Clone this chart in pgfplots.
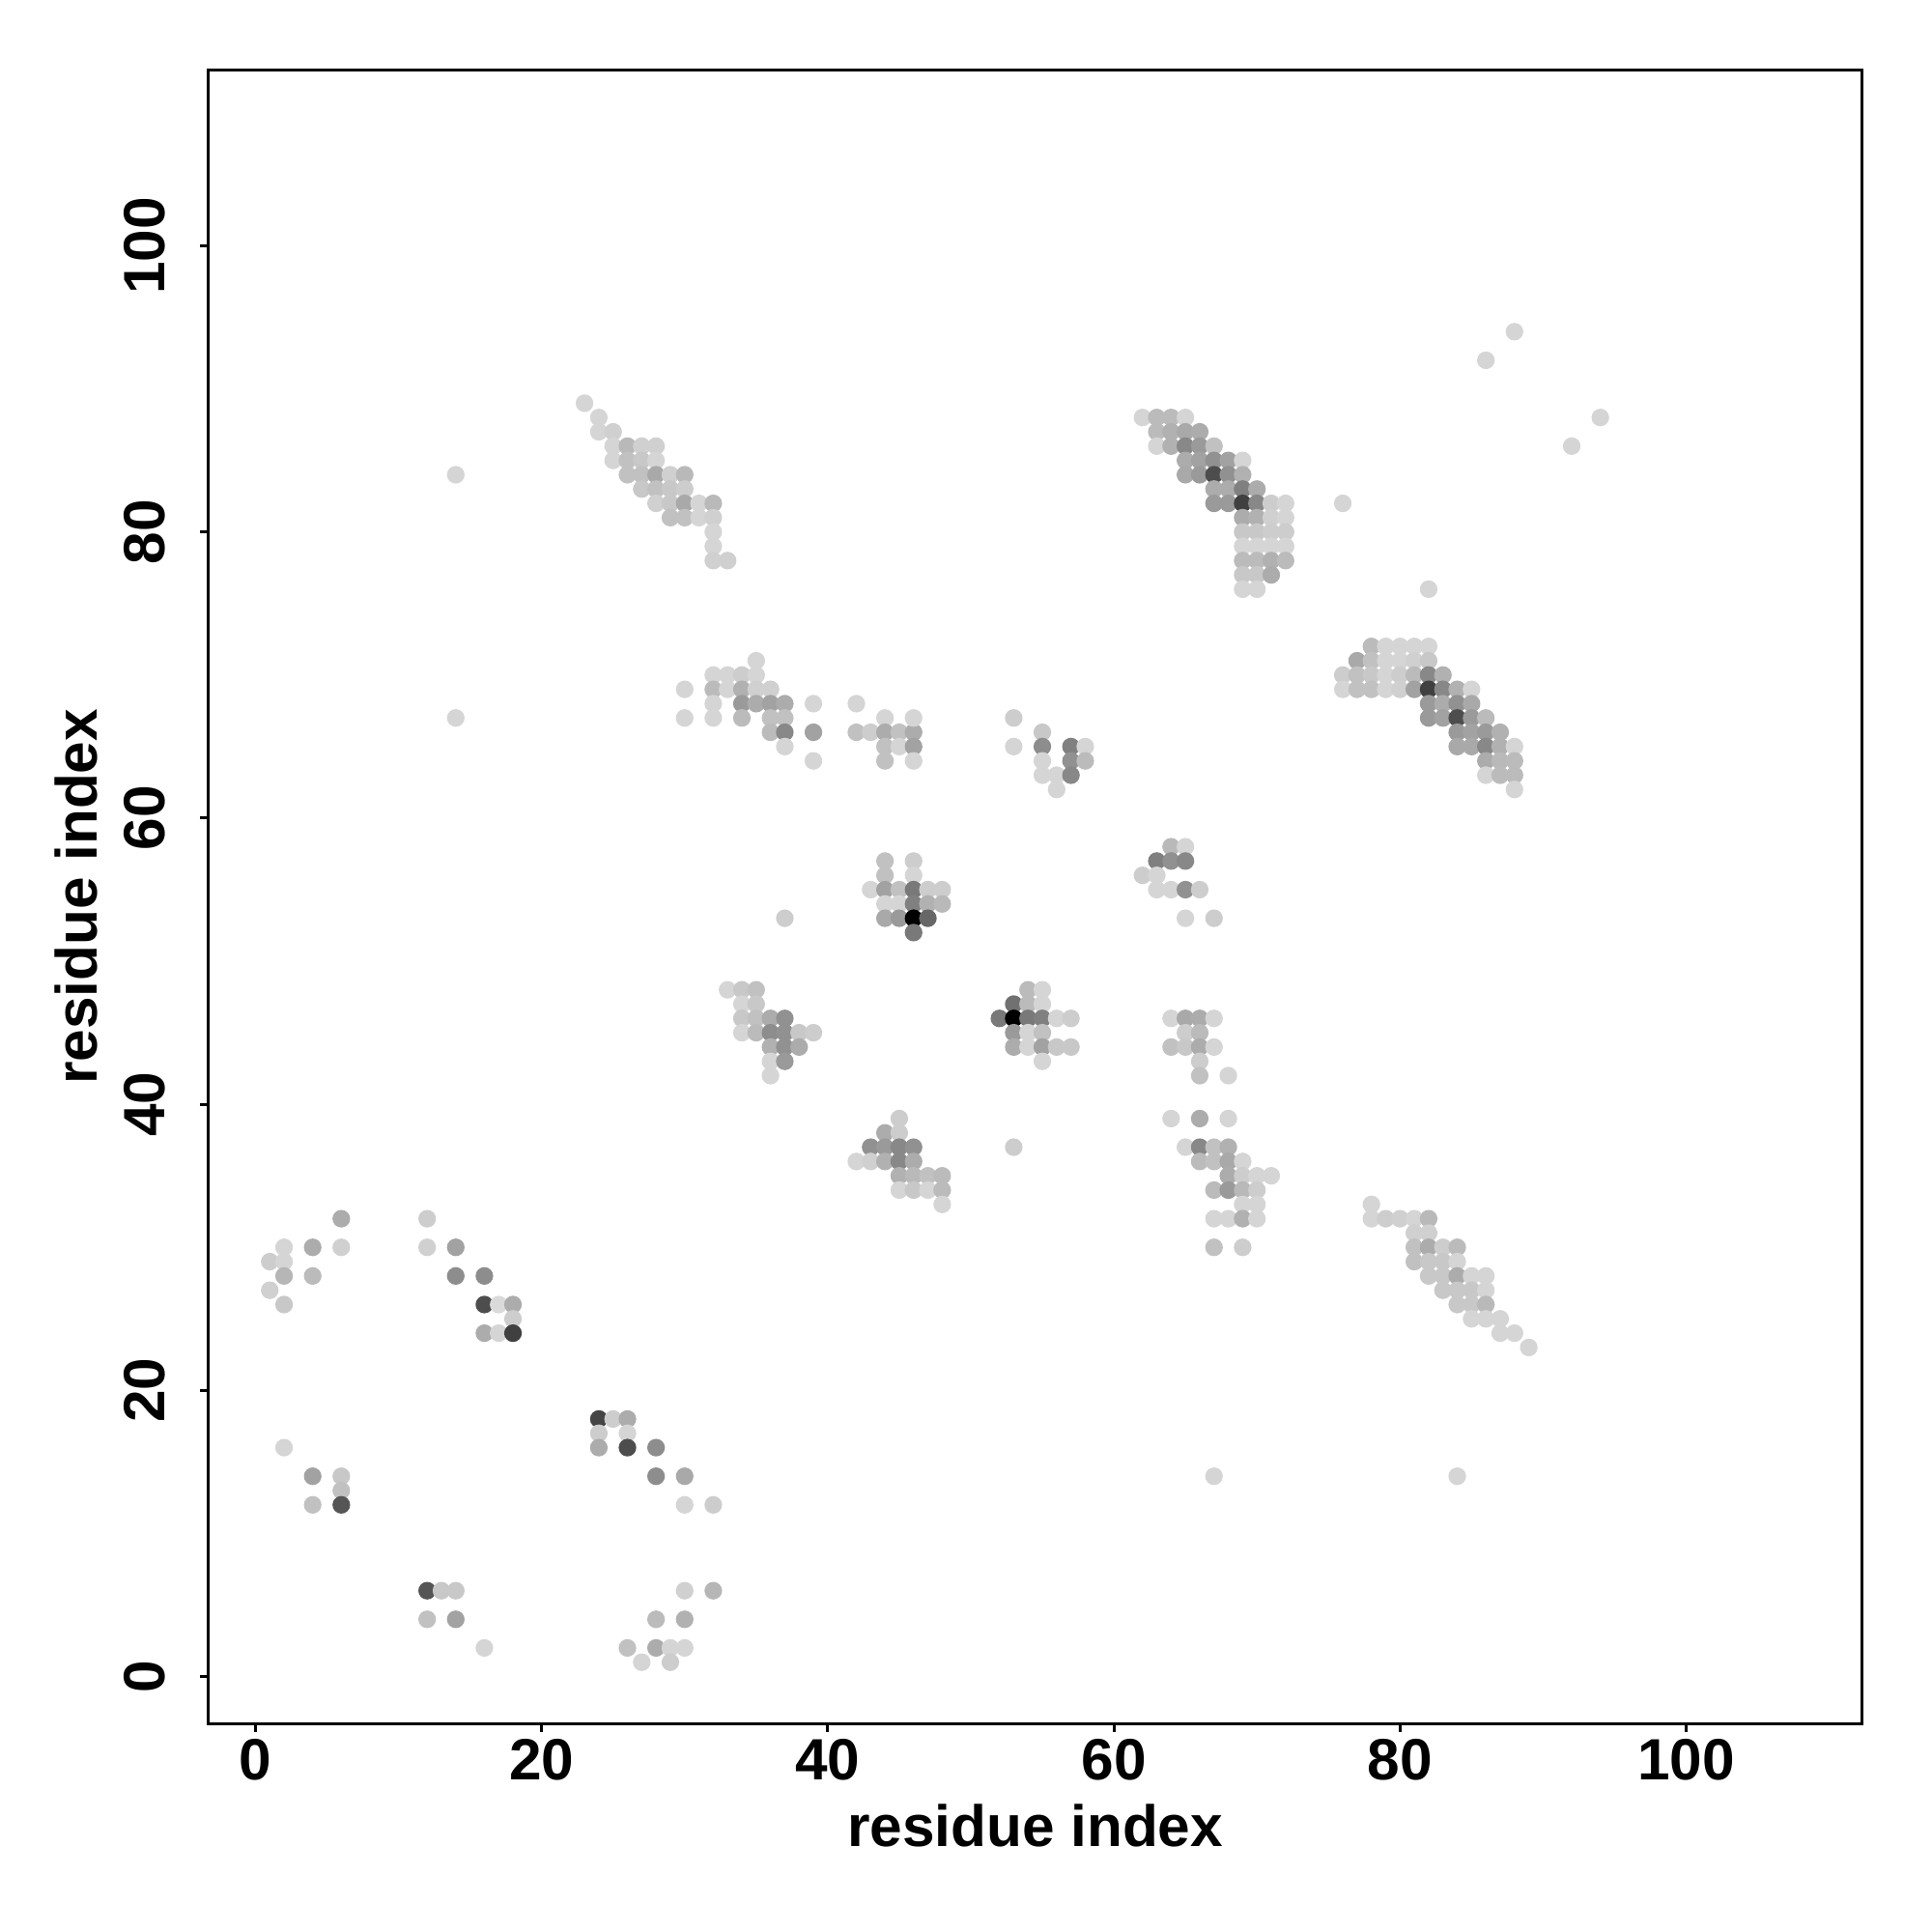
\documentclass[border=0pt]{standalone}
\usepackage{fontspec}
\setmainfont{Liberation Sans}
\usepackage{pgfplots}
\usepackage{pgfplotstable}
\pgfplotsset{compat=1.18}
\pgfplotstableread{
x y g
6 32 0.67
12 32 0.80
2 30 0.83
4 30 0.67
6 30 0.81
12 30 0.81
14 30 0.63
1 29 0.80
2 29 0.83
2 28 0.71
4 28 0.73
14 28 0.55
16 28 0.55
1 27 0.81
2 26 0.78
16 26 0.30
17 26 0.85
18 26 0.67
18 25 0.80
16 24 0.67
17 24 0.83
18 24 0.25
24 18 0.27
25 18 0.80
26 18 0.67
24 17 0.80
26 17 0.83
24 16 0.67
26 16 0.30
28 16 0.55
28 14 0.55
30 14 0.66
30 12 0.83
32 12 0.80
2 16 0.83
4 14 0.63
6 14 0.78
6 13 0.75
4 12 0.75
6 12 0.33
12 6 0.33
13 6 0.78
14 6 0.78
12 4 0.75
14 4 0.63
16 2 0.83
30 6 0.81
32 6 0.71
28 4 0.73
30 4 0.69
26 2 0.75
28 2 0.67
29 2 0.83
30 2 0.83
27 1 0.83
29 1 0.80
23 89 0.83
24 88 0.83
24 87 0.83
25 87 0.81
25 86 0.83
25 85 0.83
26 86 0.72
27 86 0.81
28 86 0.81
26 85 0.75
27 85 0.78
28 85 0.83
26 84 0.75
27 84 0.75
28 84 0.66
29 84 0.81
30 84 0.72
27 83 0.78
28 83 0.75
29 83 0.78
30 83 0.80
28 82 0.81
29 82 0.78
30 82 0.66
31 82 0.83
32 82 0.72
29 81 0.75
30 81 0.75
31 81 0.83
32 81 0.81
32 80 0.83
32 79 0.83
32 78 0.81
33 78 0.81
30 69 0.83
30 67 0.83
35 71 0.83
32 70 0.83
33 70 0.83
34 70 0.80
35 70 0.83
32 69 0.73
33 69 0.83
34 69 0.69
35 69 0.81
36 69 0.81
32 68 0.83
34 68 0.60
35 68 0.67
36 68 0.63
37 68 0.67
32 67 0.83
34 67 0.73
36 67 0.75
37 67 0.75
36 66 0.73
37 66 0.53
37 65 0.83
39 68 0.83
39 66 0.63
39 64 0.83
42 68 0.83
42 66 0.75
43 66 0.80
44 67 0.83
44 66 0.67
45 66 0.75
46 66 0.67
46 67 0.83
44 65 0.75
45 65 0.83
46 65 0.63
44 64 0.75
46 64 0.83
53 67 0.80
53 65 0.83
55 66 0.78
55 65 0.55
55 64 0.83
55 63 0.83
56 63 0.83
56 62 0.83
57 65 0.50
57 64 0.565
57 63 0.53
58 65 0.83
58 64 0.73
44 57 0.75
46 57 0.80
44 56 0.75
46 56 0.83
43 55 0.83
44 55 0.63
45 55 0.75
46 55 0.47
47 55 0.80
48 55 0.80
44 54 0.83
45 54 0.83
46 54 0.50
47 54 0.69
48 54 0.72
44 53 0.66
45 53 0.60
46 53 0.00
47 53 0.40
46 52 0.47
64 58 0.72
65 58 0.83
63 57 0.50
64 57 0.565
65 57 0.53
62 56 0.80
63 56 0.83
63 55 0.83
64 55 0.83
65 55 0.565
66 55 0.80
65 53 0.83
67 53 0.80
33 48 0.83
34 48 0.78
35 48 0.75
34 47 0.83
35 47 0.78
34 46 0.78
35 46 0.75
36 46 0.67
37 46 0.565
34 45 0.83
35 45 0.73
36 45 0.55
37 45 0.565
38 45 0.78
39 45 0.80
36 44 0.69
37 44 0.565
38 44 0.67
36 43 0.83
37 43 0.60
36 42 0.83
54 48 0.73
55 48 0.83
53 47 0.44
54 47 0.73
55 47 0.83
52 46 0.47
53 46 0.00
54 46 0.47
55 46 0.50
56 46 0.83
57 46 0.80
53 45 0.60
54 45 0.83
55 45 0.75
53 44 0.67
54 44 0.83
55 44 0.63
56 44 0.78
57 44 0.78
55 43 0.83
64 46 0.83
65 46 0.66
66 46 0.67
67 46 0.83
65 45 0.80
66 45 0.73
64 44 0.75
65 44 0.78
66 44 0.67
67 44 0.83
66 43 0.80
66 42 0.75
68 42 0.83
64 39 0.83
66 39 0.67
68 39 0.83
65 37 0.83
66 37 0.53
67 37 0.75
68 37 0.69
66 36 0.73
67 36 0.75
68 36 0.66
69 36 0.83
68 35 0.67
69 35 0.80
70 35 0.83
71 35 0.83
67 34 0.73
68 34 0.60
69 34 0.72
70 34 0.80
69 33 0.83
70 33 0.83
67 32 0.83
68 32 0.83
69 32 0.69
70 32 0.83
67 30 0.75
69 30 0.80
45 39 0.80
44 38 0.67
45 38 0.80
43 37 0.565
44 37 0.60
45 37 0.53
46 37 0.565
42 36 0.83
43 36 0.81
44 36 0.69
45 36 0.53
46 36 0.67
45 35 0.69
46 35 0.72
47 35 0.75
48 35 0.73
45 34 0.83
46 34 0.78
47 34 0.83
48 34 0.73
48 33 0.83
78 33 0.83
78 32 0.83
79 32 0.80
80 32 0.81
81 32 0.83
82 32 0.72
81 31 0.81
82 31 0.81
81 30 0.75
82 30 0.67
83 30 0.80
84 30 0.73
81 29 0.75
82 29 0.78
83 29 0.78
84 29 0.83
82 28 0.78
83 28 0.78
84 28 0.67
85 28 0.83
86 28 0.83
83 27 0.78
84 27 0.78
85 27 0.78
86 27 0.83
84 26 0.78
85 26 0.78
86 26 0.72
85 25 0.83
86 25 0.83
87 25 0.83
87 24 0.83
88 24 0.83
89 23 0.83
82 76 0.83
78 72 0.73
79 72 0.83
80 72 0.83
81 72 0.83
82 72 0.83
77 71 0.66
78 71 0.75
79 71 0.83
80 71 0.83
81 71 0.81
82 71 0.78
76 70 0.80
77 70 0.75
78 70 0.78
79 70 0.83
80 70 0.80
81 70 0.73
82 70 0.53
83 70 0.69
76 69 0.83
77 69 0.75
78 69 0.75
79 69 0.83
80 69 0.81
81 69 0.63
82 69 0.25
83 69 0.53
84 69 0.69
85 69 0.83
82 68 0.60
83 68 0.67
84 68 0.565
85 68 0.66
82 67 0.60
83 67 0.63
84 67 0.30
85 67 0.60
86 67 0.73
84 66 0.60
85 66 0.63
86 66 0.60
87 66 0.69
84 65 0.66
85 65 0.66
86 65 0.53
87 65 0.69
88 65 0.83
86 64 0.67
87 64 0.72
88 64 0.73
86 63 0.83
87 63 0.73
88 63 0.73
88 62 0.83
62 88 0.83
63 88 0.73
64 88 0.73
65 88 0.83
63 87 0.73
64 87 0.69
65 87 0.66
66 87 0.67
63 86 0.83
64 86 0.69
65 86 0.53
66 86 0.60
67 86 0.75
65 85 0.67
66 85 0.63
67 85 0.565
68 85 0.63
69 85 0.83
65 84 0.66
66 84 0.60
67 84 0.30
68 84 0.565
69 84 0.69
67 83 0.67
68 83 0.67
69 83 0.50
70 83 0.67
67 82 0.60
68 82 0.60
69 82 0.25
70 82 0.53
71 82 0.80
72 82 0.83
69 81 0.67
70 81 0.69
71 81 0.81
72 81 0.83
69 80 0.78
70 80 0.78
71 80 0.80
72 80 0.80
69 79 0.83
70 79 0.83
71 79 0.83
72 79 0.83
69 78 0.73
70 78 0.73
71 78 0.69
72 78 0.73
69 77 0.78
70 77 0.78
71 77 0.67
69 76 0.83
70 76 0.83
88 94 0.83
86 92 0.83
94 88 0.83
92 86 0.83
14 84 0.83
14 67 0.83
76 82 0.83
67 14 0.83
84 14 0.83
53 37 0.80
37 53 0.80
}\contacts
\begin{document}
\begin{tikzpicture}
\useasboundingbox (0,0) rectangle (504pt,504pt);
\begin{axis}[
  at={(54.4pt,54.4pt)}, anchor=south west,
  scale only axis, width=431.3pt, height=431.3pt,
  xmin=-3.28, xmax=112.28, ymin=-3.28, ymax=112.28,
  xtick={0,20,40,60,80,100}, ytick={0,20,40,60,80,100},
  tick pos=left, tick align=outside, major tick length=2.2pt,
  axis line style={line width=0.8pt},
  every tick/.style={black, line width=0.8pt},
  /pgf/number format/assume math mode=true,
  tick label style={font=\fontsize{15.2}{18}\selectfont\bfseries, inner sep=0pt},
  xticklabel style={anchor=north, yshift=-1.6pt},
  yticklabel style={rotate=90, anchor=south, yshift=9.0pt},
  label style={font=\fontsize{15.2}{18}\selectfont\bfseries, inner sep=0pt},
  xlabel={residue index}, ylabel={residue index},
  xlabel style={at={([yshift=-32pt]axis description cs:0.5,0)}, anchor=base},
  ylabel style={at={([xshift=-29.2pt]axis description cs:0,0.5)}, rotate=0, anchor=base},
  colormap={bw}{rgb255(0cm)=(0,0,0); rgb255(1cm)=(255,255,255)},
  point meta min=0, point meta max=1,
]
\addplot[scatter, only marks, mark=*, mark size=2.1pt,
  mark options={line width=0.4pt},
  scatter src=explicit,
  scatter/use mapped color={draw=mapped color, fill=mapped color}]
  table[x=x, y=y, meta=g] {\contacts};
\end{axis}
\end{tikzpicture}
\end{document}
